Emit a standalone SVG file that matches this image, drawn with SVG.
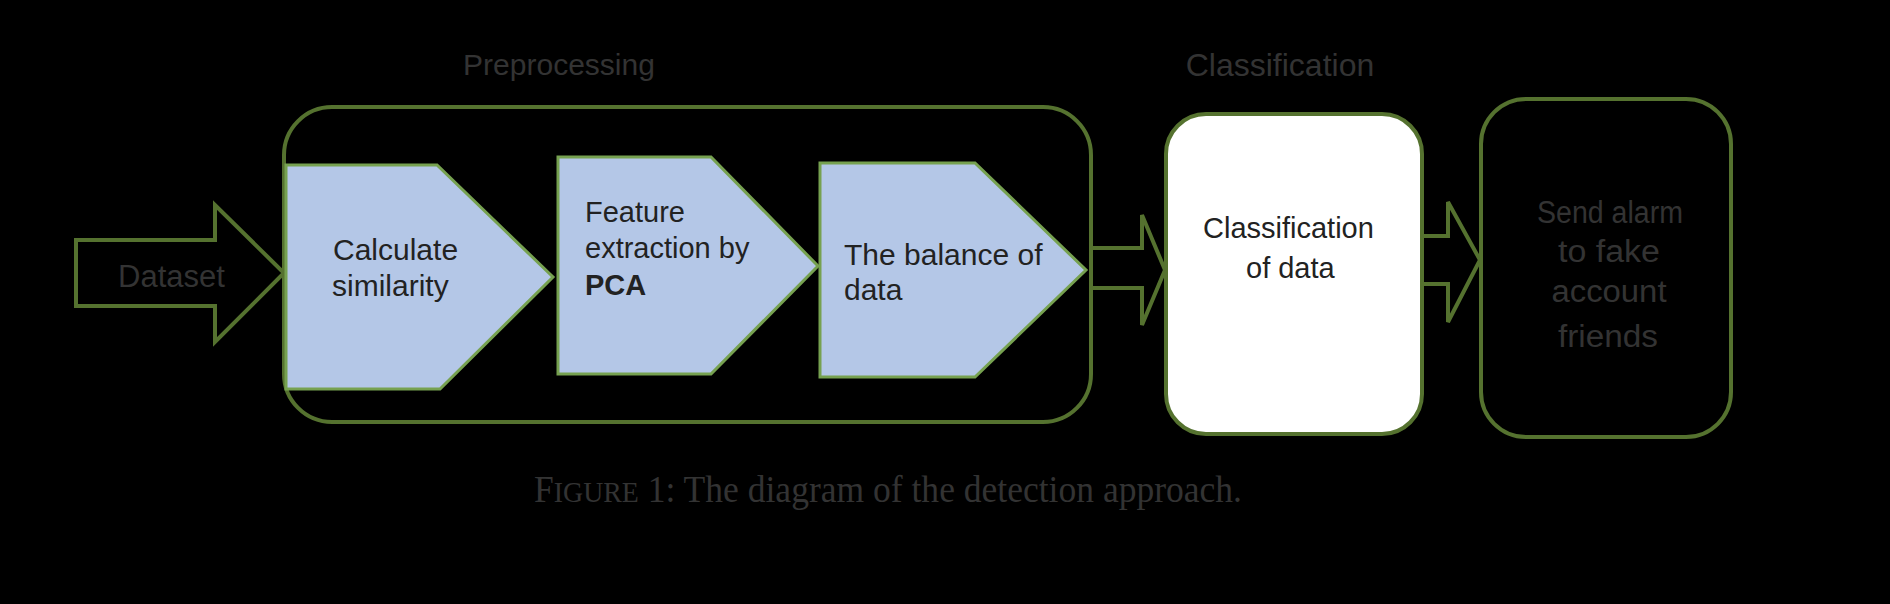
<svg xmlns="http://www.w3.org/2000/svg" width="1890" height="604" viewBox="0 0 1890 604">
<style>
.lbl{font-family:"Liberation Sans",Arial,sans-serif;font-size:30px;fill:#333}
.txt{font-family:"Liberation Sans",Arial,sans-serif;font-size:29px;fill:#222}
.pent{fill:#b4c7e7;stroke:#76a150;stroke-width:3}
.frame{fill:none;stroke:#55722f;stroke-width:4}
.arr{fill:none;stroke:#55722f;stroke-width:4;stroke-linejoin:miter}
</style>
<rect x="0" y="0" width="1890" height="604" fill="#000"/>
<text class="lbl" x="559" y="75" text-anchor="middle">Preprocessing</text>
<text class="lbl" x="1280" y="76" text-anchor="middle" style="font-size:32px">Classification</text>
<g id="preprocessing">
<rect class="frame" x="284" y="107" width="807" height="315" rx="48"/>
</g>
<g id="connectors">
<path class="arr" d="M76,240 H215 V205 L284,273 L215,342 V306 H76 Z"/>
<path class="arr" d="M1091,248 H1142 V215 L1165,270 L1142,325 V288 H1091"/>
<path class="arr" d="M1422,236 H1448 V202 L1480,260 L1448,322 V284 H1422"/>
</g>
<g id="dataset">
<text class="lbl" x="118" y="287" style="font-size:31px">Dataset</text>
</g>
<g id="calculate">
<polygon class="pent" points="286,165 437,165 553,277 440,389 286,389"/>
<text class="txt" x="333" y="260" style="font-size:30px">Calculate</text>
<text class="txt" x="332" y="296" style="font-size:30px">similarity</text>
</g>
<g id="feature">
<polygon class="pent" points="558,157 711,157 818,266 711,374 558,374"/>
<text class="txt" x="585" y="222">Feature</text>
<text class="txt" x="585" y="258">extraction by</text>
<text class="txt" x="585" y="295" font-weight="bold">PCA</text>
</g>
<g id="balance">
<polygon class="pent" points="820,163 975,163 1086,270 975,377 820,377"/>
<text class="txt" x="844" y="265" style="font-size:30px">The balance of</text>
<text class="txt" x="844" y="300" style="font-size:30px">data</text>
</g>
<g id="classify">
<rect x="1166" y="114" width="256" height="320" rx="40" fill="#fff" stroke="#55722f" stroke-width="4"/>
<text class="txt" x="1203" y="238">Classification</text>
<text class="txt" x="1246" y="278">of data</text>
</g>
<g id="alarm">
<rect class="frame" x="1481" y="99" width="250" height="338" rx="45"/>
<text class="lbl" x="1610" y="223" text-anchor="middle" style="font-size:31px" textLength="146" lengthAdjust="spacingAndGlyphs">Send alarm</text>
<text class="lbl" x="1609" y="262" text-anchor="middle" style="font-size:31px" textLength="102" lengthAdjust="spacingAndGlyphs">to fake</text>
<text class="lbl" x="1609" y="302" text-anchor="middle" style="font-size:31px" textLength="115" lengthAdjust="spacingAndGlyphs">account</text>
<text class="lbl" x="1608" y="347" text-anchor="middle" style="font-size:31px" textLength="100" lengthAdjust="spacingAndGlyphs">friends</text>
</g>
<text x="534" y="502" textLength="708" lengthAdjust="spacingAndGlyphs" style="font-family:'Liberation Serif','Times New Roman',serif;font-size:37px;fill:#333">F<tspan font-size="29px">IGURE</tspan> 1: The diagram of the detection approach.</text>
</svg>
